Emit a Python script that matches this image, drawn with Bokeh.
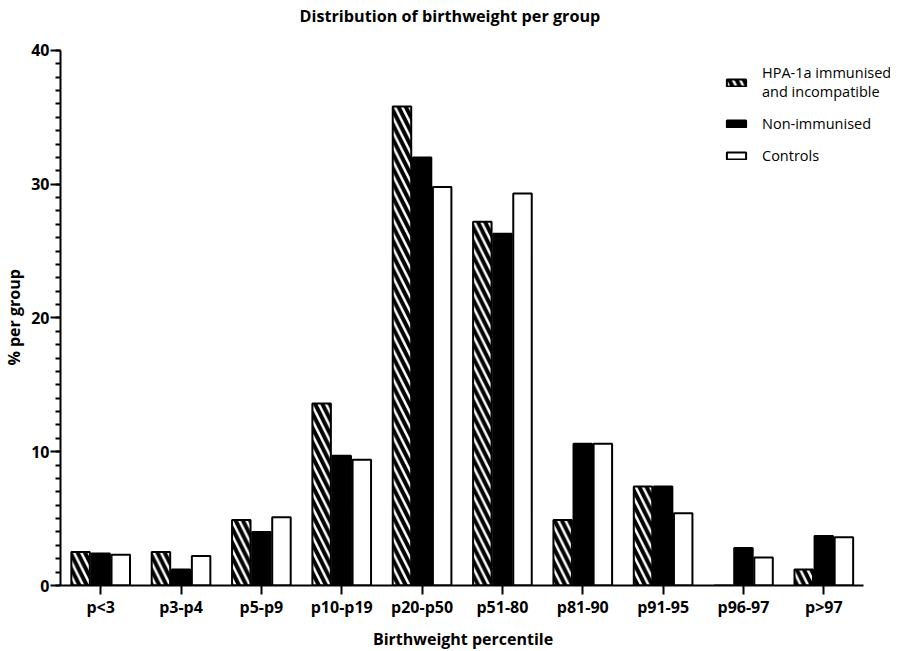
from bokeh.plotting import figure
from bokeh.models import (ColumnDataSource, Range1d, FixedTicker,
                          Legend, LegendItem, Title)
from bokeh.transform import dodge
from bokeh.embed import file_html
from bokeh.resources import INLINE

categories = ["p<3", "p3-p4", "p5-p9", "p10-p19", "p20-p50", "p51-80",
              "p81-90", "p91-95", "p96-97", "p>97"]
hpa_immunised = [2.5, 2.5, 4.9, 13.6, 35.8, 27.2, 4.9, 7.4, 0.0, 1.2]
non_immunised = [2.4, 1.2, 4.0, 9.7, 32.0, 26.3, 10.6, 7.4, 2.8, 3.7]
controls = [2.3, 2.2, 5.1, 9.4, 29.8, 29.3, 10.6, 5.4, 2.1, 3.6]
y_ticks = [0, 10, 20, 30, 40]

FONT = "Open Sans"
NB = "\u00a0"

# category slot centres on the x scale (one unit per category)
x_centres = [i + 0.5 for i in range(len(categories))]

src = ColumnDataSource(dict(x=x_centres, cat=categories, hpa=hpa_immunised,
                            non=non_immunised, ctl=controls))

p = figure(frame_width=830, frame_height=557, output_backend="svg",
           toolbar_location=None,
           x_range=Range1d(0, 10.33), y_range=Range1d(0, 41.64),
           min_border_left=56, min_border_right=0, min_border_top=28,
           min_border_bottom=40)
p.title = Title(text="Distribution of birthweight per group", align="left",
                text_font=FONT, text_font_size="16.2px", text_font_style="bold",
                text_color="black", offset=239, standoff=4)
p.outline_line_color = None
p.xgrid.visible = False
p.ygrid.visible = False

w = 0.23
r1 = p.vbar(x=dodge("x", -0.25), top="hpa", width=w, source=src,
            fill_color="white", hatch_pattern="\\", hatch_color="black",
            hatch_weight=4, hatch_scale=14.5, line_color="black", line_width=2)
r2 = p.vbar(x=dodge("x", 0.0), top="non", width=w, source=src,
            fill_color="black", line_color="black", line_width=2)
r3 = p.vbar(x=dodge("x", 0.25), top="ctl", width=w, source=src,
            fill_color="white", line_color="black", line_width=2)

for ax in (p.xaxis[0], p.yaxis[0]):
    ax.axis_line_width = 2
    ax.axis_line_color = "black"
    ax.major_tick_line_width = 2
    ax.minor_tick_line_width = 2
    ax.major_tick_line_color = "black"
    ax.minor_tick_line_color = "black"
    ax.major_tick_in = 0
    ax.minor_tick_in = 0
    ax.major_label_text_font = FONT
    ax.major_label_text_font_style = "bold"
    ax.major_label_text_font_size = "16px"
    ax.major_label_text_color = "black"
    ax.axis_label_text_font = FONT
    ax.axis_label_text_font_style = "bold"
    ax.axis_label_text_font_size = "16px"
    ax.axis_label_text_color = "black"

p.xaxis.axis_label = "Birthweight percentile" + NB * 6
p.xaxis.ticker = FixedTicker(ticks=x_centres, minor_ticks=[])
p.xaxis.major_label_overrides = {x: c for x, c in zip(x_centres, categories)}
p.xaxis.bounds = (0, len(categories))
p.xaxis.major_tick_out = 9
p.xaxis.minor_tick_out = 0
p.xaxis.major_label_standoff = 1
p.xaxis.axis_label_standoff = 7

p.yaxis.axis_label = "% per group" + NB * 5
p.yaxis.ticker = FixedTicker(ticks=y_ticks, minor_ticks=list(range(0, 41)))
p.yaxis.bounds = (0, 40)
p.yaxis.major_tick_out = 10
p.yaxis.minor_tick_out = 5
p.yaxis.major_label_standoff = 1
p.yaxis.axis_label_standoff = 3

legend = Legend(items=[
    LegendItem(label="HPA-1a immunised\nand incompatible", renderers=[r1]),
    LegendItem(label="Non-immunised", renderers=[r2]),
    LegendItem(label="Controls", renderers=[r3]),
], location=(664, 420), glyph_width=24, glyph_height=9, label_standoff=14,
    padding=0, spacing=12, label_height=20, border_line_color=None,
    background_fill_alpha=0, label_text_font=FONT, label_text_font_size="14.5px",
    label_text_line_height=0.95, label_text_color="black")
p.add_layout(legend, "center")

open("out.html", "w").write(file_html(p, INLINE))
